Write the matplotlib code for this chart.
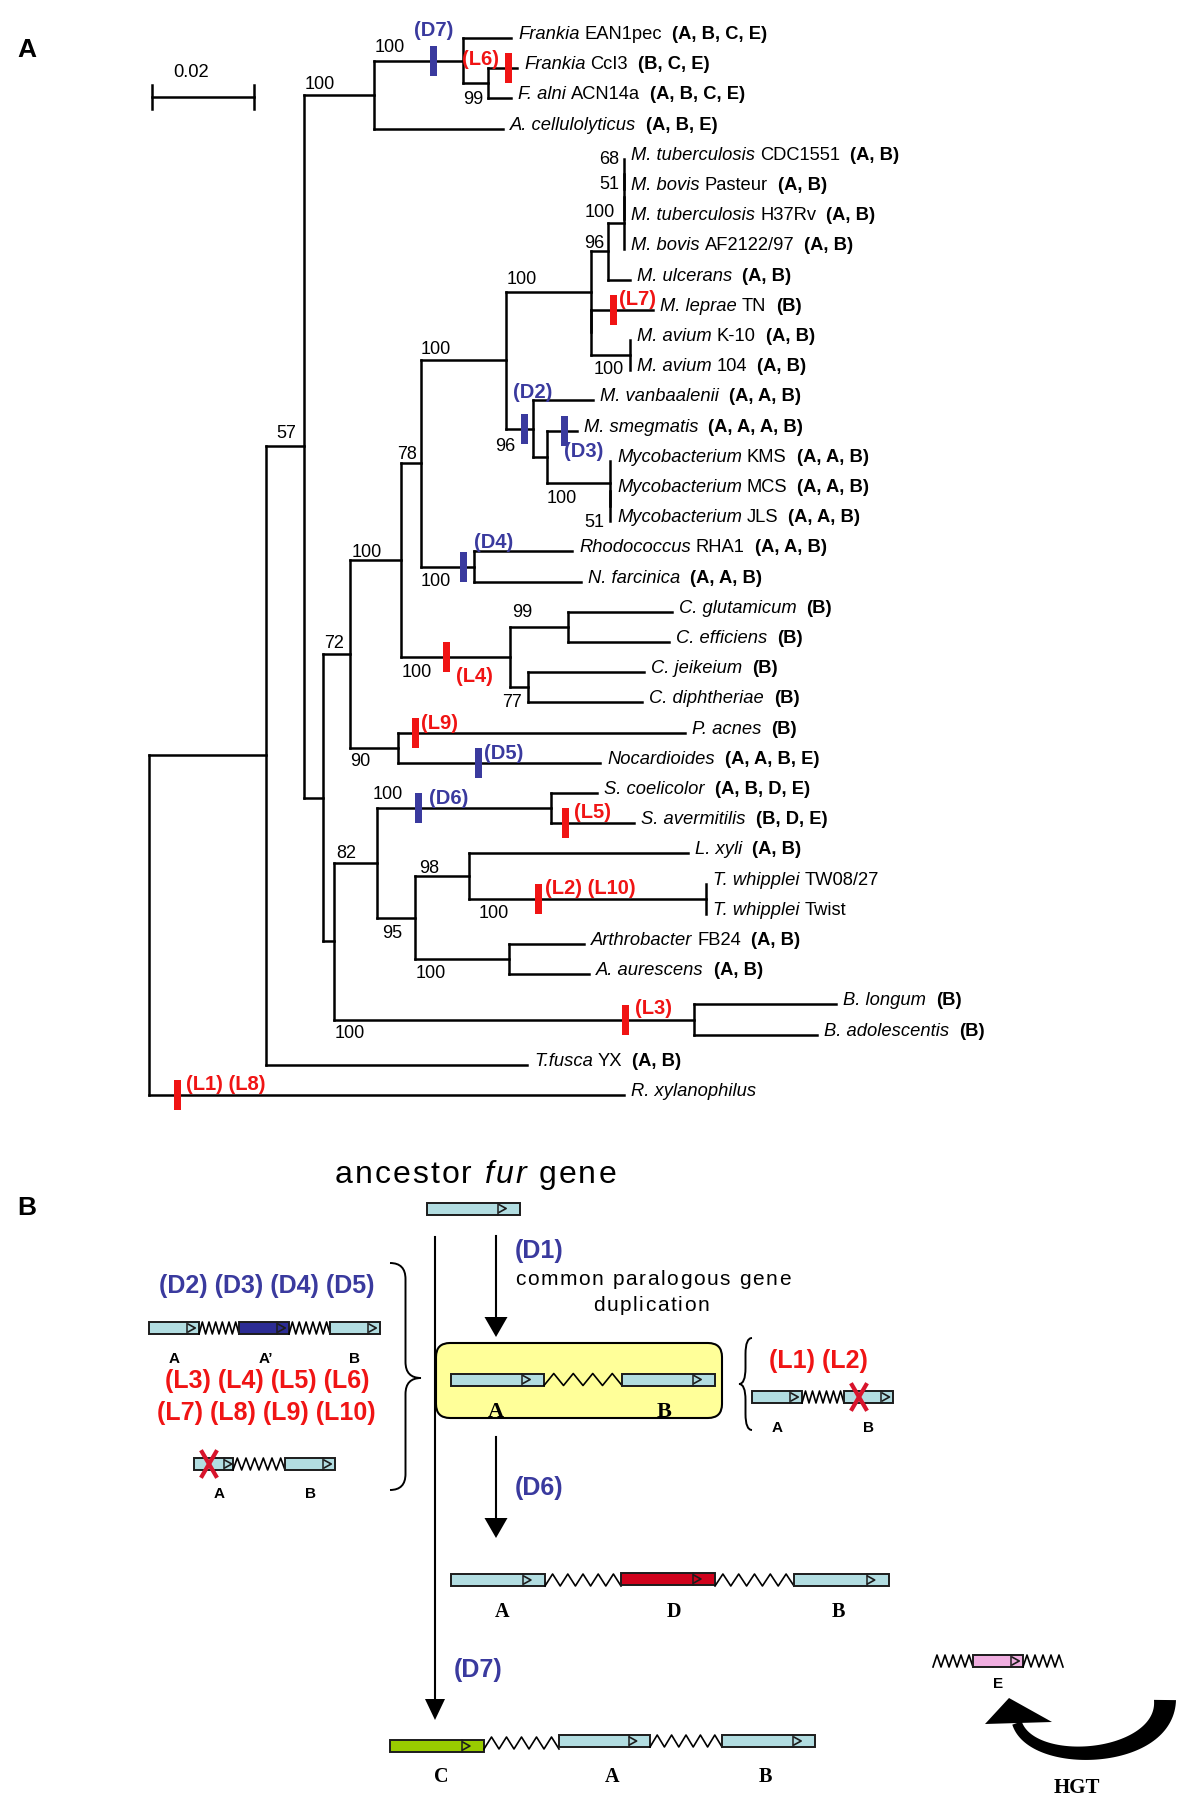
import numpy as np
import matplotlib
matplotlib.use('Agg')
import matplotlib.pyplot as plt
from matplotlib.patches import Rectangle, FancyBboxPatch, Polygon, PathPatch
from matplotlib.path import Path

plt.rcParams['font.family'] = ['Liberation Sans', 'DejaVu Sans']

# ---------------- panel A data ----------------
leaf_id = ['EAN', 'CcI3', 'alni', 'Acel', 'CDC', 'Pas', 'H37', 'AF', 'ulc', 'lep',
           'avK', 'av104', 'vanb', 'smeg', 'KMS', 'MCS', 'JLS', 'Rho', 'farc', 'glut',
           'eff', 'jeik', 'diph', 'acnes', 'Noc', 'coel', 'aver', 'xyli', 'TW08', 'Twist',
           'Arth', 'aur', 'long', 'adol', 'fusca', 'Rxyl']
leaf_italic = ['Frankia', 'Frankia', 'F. alni', 'A. cellulolyticus', 'M. tuberculosis',
               'M. bovis', 'M. tuberculosis', 'M. bovis', 'M. ulcerans', 'M. leprae',
               'M. avium', 'M. avium', 'M. vanbaalenii', 'M. smegmatis', 'Mycobacterium',
               'Mycobacterium', 'Mycobacterium', 'Rhodococcus', 'N. farcinica', 'C. glutamicum',
               'C. efficiens', 'C. jeikeium', 'C. diphtheriae', 'P. acnes', 'Nocardioides',
               'S. coelicolor', 'S. avermitilis', 'L. xyli', 'T. whipplei', 'T. whipplei',
               'Arthrobacter', 'A. aurescens', 'B. longum', 'B. adolescentis', 'T.fusca',
               'R. xylanophilus']
leaf_strain = ['EAN1pec', 'CcI3', 'ACN14a', '', 'CDC1551', 'Pasteur', 'H37Rv', 'AF2122/97',
               '', 'TN', 'K-10', '104', '', '', 'KMS', 'MCS', 'JLS', 'RHA1', '', '', '', '',
               '', '', '', '', '', '', 'TW08/27', 'Twist', 'FB24', '', '', '', 'YX', '']
leaf_genes = ['A, B, C, E', 'B, C, E', 'A, B, C, E', 'A, B, E', 'A, B', 'A, B', 'A, B', 'A, B',
              'A, B', 'B', 'A, B', 'A, B', 'A, A, B', 'A, A, A, B', 'A, A, B', 'A, A, B',
              'A, A, B', 'A, A, B', 'A, A, B', 'B', 'B', 'B', 'B', 'B', 'A, A, B, E',
              'A, B, D, E', 'B, D, E', 'A, B', '', '', 'A, B', 'A, B', 'B', 'B', 'A, B', '']

# tree edges: child, parent, branch length (substitutions per site)
node_child = ['N57', 'Rxyl', 'N100a', 'fusca', 'N100b', 'N72', 'Nfrk', 'Acel', 'EAN', 'N99',
              'CcI3', 'alni', 'N100c', 'N82', 'N78', 'N90', 'N100d', 'NCor', 'N96', 'ND4',
              'Nmyc', 'ND2', 'N96b', 'Nlepav', 'Ntb3', 'ulc', 'Ntb2', 'AF', 'Ntb1', 'H37',
              'CDC', 'Pas', 'lep', 'Navium', 'avK', 'av104', 'vanb', 'ND3', 'smeg', 'NKMS',
              'KMS', 'NMJ', 'MCS', 'JLS', 'Rho', 'farc', 'N99c', 'N77', 'glut', 'eff',
              'jeik', 'diph', 'acnes', 'Noc', 'N100s', 'NBif', 'Nstr', 'N95', 'coel', 'aver',
              'N98', 'NArth', 'xyli', 'NTwh', 'TW08', 'Twist', 'Arth', 'aur', 'long', 'adol']
node_parent = ['root', 'root', 'N57', 'N57', 'N100a', 'N100a', 'N100b', 'N100b', 'Nfrk', 'Nfrk',
               'N99', 'N99', 'N72', 'N72', 'N100c', 'N100c', 'N78', 'N78', 'N100d', 'N100d',
               'N96', 'N96', 'Nmyc', 'Nmyc', 'N96b', 'N96b', 'Ntb3', 'Ntb3', 'Ntb2', 'Ntb2',
               'Ntb1', 'Ntb1', 'Nlepav', 'Nlepav', 'Navium', 'Navium', 'ND2', 'ND2', 'ND3', 'ND3',
               'NKMS', 'NKMS', 'NMJ', 'NMJ', 'ND4', 'ND4', 'NCor', 'NCor', 'N99c', 'N99c',
               'N77', 'N77', 'N90', 'N90', 'N82', 'N82', 'N100s', 'N100s', 'Nstr', 'Nstr',
               'N95', 'N95', 'N98', 'N98', 'NTwh', 'NTwh', 'NArth', 'NArth', 'NBif', 'NBif']
branch_len = [0.02294, 0.09314, 0.00745, 0.05118, 0.01373, 0.00373, 0.01745, 0.02529, 0.00941, 0.00490,
              0.00569, 0.00451, 0.00529, 0.00216, 0.01000, 0.00941, 0.00392, 0.02137, 0.01667, 0.01039,
              0.01667, 0.00529, 0.00333, 0.0, 0.00314, 0.00431, 0.0, 0.0, 0.0, 0.0,
              0.0, 0.0, 0.01216, 0.00765, 0.0, 0.0, 0.01176, 0.00275, 0.00588, 0.01235,
              0.0, 0.0, 0.0, 0.0, 0.01922, 0.02098, 0.01137, 0.00353, 0.02039, 0.01980,
              0.02275, 0.02235, 0.05627, 0.03961, 0.00843, 0.07059, 0.03412, 0.00745, 0.00902, 0.01627,
              0.01059, 0.01843, 0.04294, 0.04647, 0.0, 0.0, 0.01471, 0.01569, 0.02784, 0.02412]

# bootstrap values
support_node = ['N100b', 'Nfrk', 'N99', 'N100a', 'N100c', 'N78', 'N100d', 'N96', 'Nmyc', 'ND2',
                'N96b', 'Ntb3', 'Ntb2', 'Ntb1', 'Navium', 'NKMS', 'NMJ', 'ND4', 'NCor', 'N99c',
                'N77', 'N90', 'N100s', 'Nstr', 'N95', 'N98', 'NArth', 'NTwh', 'NBif']
support_val = [100, 100, 99, 57, 72, 100, 78, 100, 100, 96,
               96, 100, 51, 68, 100, 100, 51, 100, 100, 99,
               77, 90, 82, 100, 95, 98, 100, 100, 100]

# duplication (D) / loss (L) events mapped on branches
event_name = ['(D7)', '(L6)', '(L7)', '(D2)', '(D3)', '(D4)', '(L4)', '(L9)', '(D5)', '(D6)',
              '(L5)', '(L2) (L10)', '(L3)', '(L1) (L8)']
event_branch = ['Nfrk', 'CcI3', 'lep', 'ND2', 'smeg', 'ND4', 'NCor', 'acnes', 'Noc', 'Nstr',
                'aver', 'NTwh', 'NBif', 'Rxyl']
event_frac = [0.674, 0.69, 0.37, 0.67, 0.57, 0.81, 0.42, 0.06, 0.40, 0.24,
              0.17, 0.295, 0.81, 0.059]

scale_len = 0.02

# ---------------- layout ----------------
ROOT_X, PX_PER_SUB = 149, 5100
ROW0, ROW_STEP = 38, 30.2
BLUE, RED = '#3a3a9e', '#f01414'
LW = 1.8
TIP_FS, SUP_FS, EV_FS = 13.2, 13, 14.5

# label offsets for bootstrap values (relative to start of branch)
support_off = [(16, -12), (16, -15), (10, 14), (20, -15), (11, -12), (17, -10), (6, -11),
               (15, -13), (16, -14), (-1, 16), (3, -10), (-8, -12), (-15, -14), (-15, -16),
               (18, 12), (15, 13), (-16, 14), (15, 13), (16, 13), (12, -16), (2, 13), (10, 12),
               (12, -11), (11, -16), (15, 14), (14, -10), (16, 12), (25, 13), (16, 12)]
event_off = [('center', 0, -32), ('right', -9, -10), ('left', 5, -12), ('center', 9, -38),
             ('left', 0, 19), ('left', 10, -26), ('left', 9, 18), ('left', 6, -11),
             ('left', 5, -11), ('left', 10, -11), ('left', 9, -12), ('left', 6, -12),
             ('left', 9, -12), ('left', 9, -12)]

fig = plt.figure(figsize=(12, 18.11), dpi=100)
ax = fig.add_axes([0, 0, 1, 1])
ax.set_xlim(0, 1200)
ax.set_ylim(1811, 0)
ax.axis('off')
renderer = fig.canvas.get_renderer()

parent = dict(zip(node_child, node_parent))
blen = dict(zip(node_child, branch_len))
children = {}
for c, p in zip(node_child, node_parent):
    children.setdefault(p, []).append(c)

X = {'root': ROOT_X}
Y = {lid: ROW0 + i * ROW_STEP for i, lid in enumerate(leaf_id)}


def get_x(n):
    if n not in X:
        X[n] = get_x(parent[n]) + blen[n] * PX_PER_SUB
    return X[n]


def get_y(n):
    if n not in Y:
        Y[n] = np.mean([get_y(c) for c in children[n]])
    return Y[n]


# branches
for n in node_child:
    ax.plot([get_x(parent[n]), get_x(n)], [get_y(n)] * 2, color='black', lw=LW,
            solid_capstyle='projecting')
for p, ch in children.items():
    ys = [get_y(c) for c in ch]
    ax.plot([get_x(p)] * 2, [min(ys), max(ys)], color='black', lw=LW,
            solid_capstyle='projecting')


def draw_parts(x, y, parts, size):
    for s, style, weight, gap in parts:
        t = ax.text(x, y, s, fontsize=size, style=style, weight=weight,
                    va='baseline', ha='left')
        x += t.get_window_extent(renderer=renderer).width + gap


# tip labels
for i, lid in enumerate(leaf_id):
    parts = [(leaf_italic[i], 'italic', 'normal', 5)]
    if leaf_strain[i]:
        parts.append((leaf_strain[i], 'normal', 'normal', 5))
    if leaf_genes[i]:
        parts[-1] = parts[-1][:3] + (10,)
        parts.append(('(' + leaf_genes[i] + ')', 'normal', 'bold', 0))
    draw_parts(get_x(lid) + 7, get_y(lid) + 1, parts, TIP_FS)

# bootstrap values
for n, v, (dx, dy) in zip(support_node, support_val, support_off):
    ax.text(get_x(parent[n]) + dx, get_y(n) + dy + 6.5, str(v), fontsize=SUP_FS,
            ha='center', va='baseline')

# events
for name, br, f, (ha, dx, dy) in zip(event_name, event_branch, event_frac, event_off):
    x0, x1 = get_x(parent[br]), get_x(br)
    bx, by = x0 + f * (x1 - x0), get_y(br)
    col = BLUE if name[1] == 'D' else RED
    ax.add_patch(Rectangle((bx - 3.5, by - 15), 7, 30, color=col, zorder=3, lw=0))
    ax.text(bx + dx, by + dy + 7, name, ha=ha, va='baseline', color=col,
            fontsize=EV_FS, weight='bold')

# scale bar
sx0, sy = 152, 97
sx1 = sx0 + scale_len * PX_PER_SUB
ax.plot([sx0, sx1], [sy, sy], color='black', lw=LW)
for sx in (sx0, sx1):
    ax.plot([sx, sx], [sy - 12, sy + 12], color='black', lw=LW)
ax.text(191, 77, '0.02', fontsize=13.2, ha='center', va='baseline')

ax.text(17, 57, 'A', fontsize=19, weight='bold', va='baseline')
ax.text(17, 1215, 'B', fontsize=19, weight='bold', va='baseline')

# ---------------- panel B ----------------
GENE_BLUE, DARK_BLUE = '#b2dde1', '#2c2c94'
GENE_RED, GENE_GREEN, GENE_PINK = '#d0021c', '#99cc00', '#f0aee0'
EDGE = '#1c1c1c'


def gene(x0, x1, yc, fc, h=12):
    ax.add_patch(Rectangle((x0, yc - h / 2), x1 - x0, h, fc=fc, ec=EDGE, lw=1.4, zorder=3))
    xs = x1 - 0.235 * (x1 - x0)
    ax.plot([xs, xs], [yc - h / 2, yc + h / 2], color=EDGE, lw=1.1, zorder=4)
    ax.plot([xs + 1, xs + 8, xs + 1], [yc - h * 0.32, yc, yc + h * 0.32], color=EDGE,
            lw=1.2, zorder=4)


def spacer(x0, x1, yc, n, h=12):
    xs = np.linspace(x0, x1, 2 * n + 1)
    ys = np.where(np.arange(2 * n + 1) % 2 == 0, yc + h / 2, yc - h / 2)
    ax.plot(xs, ys, color='black', lw=1.2, zorder=3)


def cross(x, y, w=14, h=24):
    for s in (1, -1):
        ax.plot([x - w / 2, x + w / 2], [y - s * h / 2, y + s * h / 2], color='#d8142c',
                lw=3, zorder=5)


def down_arrow(x, y0, y1, hl=20, hw=22):
    ax.plot([x, x], [y0, y1 - hl], color='black', lw=1.5)
    ax.add_patch(Polygon([[x - hw / 2, y1 - hl], [x + hw / 2, y1 - hl], [x, y1]],
                         closed=True, color='black', lw=0))


def char_w(ch, **kw):
    def w(s):
        t = ax.text(0, 0, s, **kw)
        v = t.get_window_extent(renderer=renderer).width
        t.remove()
        return v
    return w('H' + ch + 'H') - w('HH')


def draw_spaced(x, y, pieces, size, track):
    for s, style in pieces:
        for ch in s:
            if ch != ' ':
                ax.text(x, y, ch, fontsize=size, style=style, va='baseline', ha='left')
            x += char_w(ch, fontsize=size, style=style) + track


def brace(xa, xb, y0, y1, tip_y):
    # xa: outer ends, xb: tip; body halfway
    xm = (xa + xb) / 2
    r = 16
    verts = [(xa, y0), (xm, y0), (xm, y0 + r), (xm, y0 + r),
             (xm, tip_y - r), (xm, tip_y), (xb, tip_y), (xm, tip_y), (xm, tip_y + r),
             (xm, y1 - r), (xm, y1 - r), (xm, y1), (xa, y1)]
    codes = [Path.MOVETO, Path.CURVE3, Path.CURVE3, Path.LINETO,
             Path.LINETO, Path.CURVE3, Path.CURVE3, Path.CURVE3, Path.CURVE3,
             Path.LINETO, Path.LINETO, Path.CURVE3, Path.CURVE3]
    ax.add_patch(PathPatch(Path(verts, codes), fc='none', ec='black', lw=1.4))


draw_spaced(335, 1183, [('ancestor ', 'normal'), ('fur', 'italic'), (' gene', 'normal')], 23, 2)
gene(427, 520, 1208.5, GENE_BLUE)

down_arrow(435, 1237, 1720, hl=21, hw=20)
down_arrow(496, 1236, 1337, hl=20, hw=23)
down_arrow(496, 1437, 1538, hl=20, hw=23)

ax.text(515, 1258, '(D1)', color=BLUE, fontsize=18, weight='bold', va='baseline')
draw_spaced(515, 1285, [('common paralogous gene', 'normal')], 15, 1.6)
draw_spaced(593, 1311, [('duplication', 'normal')], 15, 1.6)
ax.text(515, 1495, '(D6)', color=BLUE, fontsize=18, weight='bold', va='baseline')
ax.text(454, 1677, '(D7)', color=BLUE, fontsize=18, weight='bold', va='baseline')

# left: lineage-specific duplications and losses
ax.text(159, 1293, '(D2) (D3) (D4) (D5)', color=BLUE, fontsize=18, weight='bold', va='baseline')
gene(149, 199, 1328, GENE_BLUE)
spacer(199, 239, 1328, 6)
gene(239, 289, 1328, DARK_BLUE)
spacer(289, 330, 1328, 6)
gene(330, 380, 1328, GENE_BLUE)
for lx, lt in zip((174, 266, 355), ('A', 'A\u2019', 'B')):
    ax.text(lx, 1363, lt, fontsize=11, weight='bold', ha='center', va='baseline')
ax.text(165, 1388, '(L3) (L4) (L5) (L6)', color=RED, fontsize=18, weight='bold', va='baseline')
ax.text(157, 1420, '(L7) (L8) (L9) (L10)', color=RED, fontsize=18, weight='bold', va='baseline')
gene(194, 233, 1464, GENE_BLUE)
spacer(233, 285, 1464, 6)
gene(285, 335, 1464, GENE_BLUE)
cross(209, 1464)
for lx, lt in zip((219, 310), ('A', 'B')):
    ax.text(lx, 1498, lt, fontsize=11, weight='bold', ha='center', va='baseline')
brace(390, 421, 1263, 1490, 1378)

# common ancestor A-B
ax.add_patch(FancyBboxPatch((436, 1343), 286, 75, boxstyle='round,pad=0,rounding_size=14',
                            fc='#ffff99', ec='black', lw=1.5, zorder=2))
gene(451, 544, 1379.5, GENE_BLUE)
spacer(544, 622, 1379.5, 4)
gene(622, 715, 1379.5, GENE_BLUE)
for lx, lt in zip((496, 664), ('A', 'B')):
    ax.text(lx, 1417, lt, fontsize=16, weight='bold', family='Liberation Serif',
            ha='center', va='baseline', zorder=4)

# right: losses of B
brace(752, 739, 1338, 1430, 1384)
ax.text(769, 1368, '(L1) (L2)', color=RED, fontsize=18, weight='bold', va='baseline')
gene(752, 802, 1397, GENE_BLUE)
spacer(802, 844, 1397, 6)
gene(844, 893, 1397, GENE_BLUE)
cross(859, 1397)
for lx, lt in zip((777, 868), ('A', 'B')):
    ax.text(lx, 1432, lt, fontsize=11, weight='bold', ha='center', va='baseline')

# D insertion
gene(451, 545, 1580, GENE_BLUE)
spacer(545, 621, 1580, 5)
gene(621, 715, 1579, GENE_RED)
spacer(715, 794, 1580, 5)
gene(794, 889, 1580, GENE_BLUE)
for lx, lt in zip((502, 674, 838), ('A', 'D', 'B')):
    ax.text(lx, 1617, lt, fontsize=14.5, weight='bold', family='Liberation Serif',
            ha='center', va='baseline')

# C insertion
gene(390, 484, 1746, GENE_GREEN)
spacer(484, 559, 1743, 5)
gene(559, 650, 1741, GENE_BLUE)
spacer(650, 722, 1741, 5)
gene(722, 815, 1741, GENE_BLUE)
for lx, lt in zip((441, 612, 765), ('C', 'A', 'B')):
    ax.text(lx, 1782, lt, fontsize=14.5, weight='bold', family='Liberation Serif',
            ha='center', va='baseline')

# E by horizontal transfer
spacer(933, 973, 1661, 5)
gene(973, 1023, 1661, GENE_PINK)
spacer(1023, 1063, 1661, 5)
ax.text(998, 1688, 'E', fontsize=11, weight='bold', ha='center', va='baseline')

t = np.linspace(0, 1, 80)
P = np.array([(1165, 1700), (1166, 1762), (1032, 1770), (1017, 1723)], dtype=float)
c = (((1 - t) ** 3)[:, None] * P[0] + (3 * (1 - t) ** 2 * t)[:, None] * P[1]
     + (3 * (1 - t) * t ** 2)[:, None] * P[2] + (t ** 3)[:, None] * P[3])
d = np.gradient(c, axis=0)
nrm = np.stack([-d[:, 1], d[:, 0]], axis=1)
nrm /= np.linalg.norm(nrm, axis=1)[:, None]
w = 10 + 12 * (1 - t) ** 1.5
shaft = np.vstack([c + nrm * w[:, None] / 2, (c - nrm * w[:, None] / 2)[::-1]])
ax.add_patch(Polygon(shaft, closed=True, color='black', lw=0))
ax.add_patch(Polygon([[985, 1724], [1052, 1722], [1009, 1698]], closed=True, color='black', lw=0))
ax.text(1077, 1793, 'HGT', fontsize=15, weight='bold', family='Liberation Serif',
        ha='center', va='baseline')

fig.savefig('out.png', dpi=100, facecolor='white')
